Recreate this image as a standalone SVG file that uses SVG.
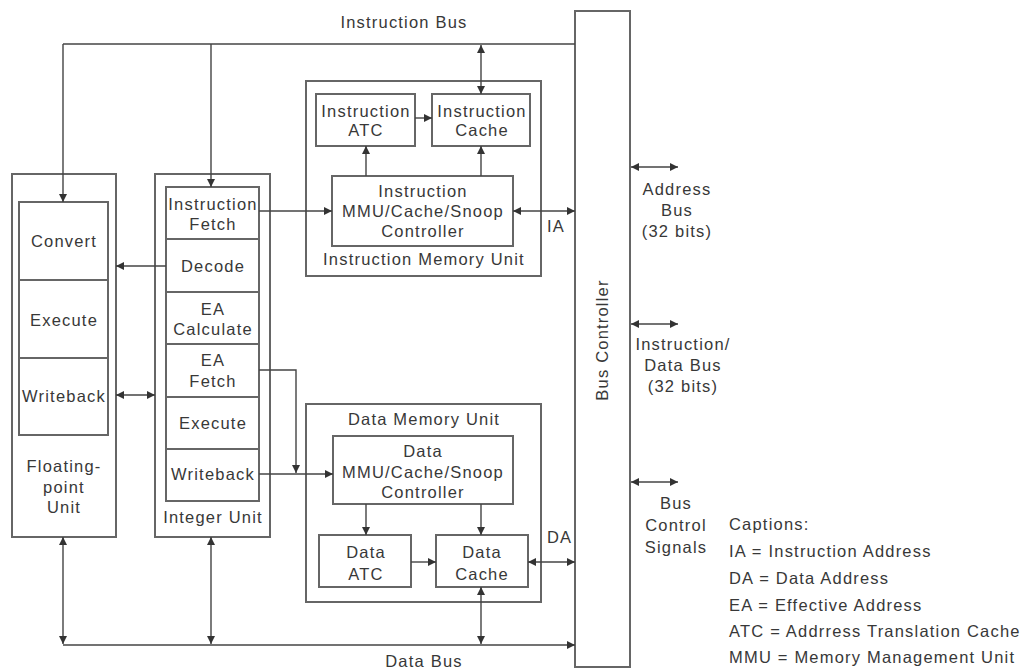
<svg xmlns="http://www.w3.org/2000/svg" width="1024" height="672" viewBox="0 0 1024 672">
  <defs>
    <marker id="arr" viewBox="0 0 10 10" refX="10" refY="5" markerWidth="9" markerHeight="8" markerUnits="userSpaceOnUse" orient="auto-start-reverse">
      <path d="M0,0 L10,5 L0,10 z" fill="#333"/>
    </marker>
    <style>
      .box { fill: #fff; stroke: #666; stroke-width: 2; }
      .cell { fill: none; stroke: #666; stroke-width: 2; }
      .wire { fill: none; stroke: #444; stroke-width: 1.4; }
      .one { marker-end: url(#arr); }
      .two { marker-start: url(#arr); marker-end: url(#arr); }
      text { font-family: "Liberation Sans", Arial, sans-serif; font-size: 16.5px; letter-spacing: 1.2px; fill: #383838; }
      .c { text-anchor: middle; }
    </style>
  </defs>
  <rect width="1024" height="672" fill="#fff"/>

  <!-- Bus controller -->
  <g id="bus-controller">
    <rect class="box" x="575" y="11" width="55" height="656"/>
    <text class="c" transform="translate(608,340) rotate(-90)">Bus Controller</text>
  </g>

  <!-- Floating-point unit -->
  <g id="fpu">
    <rect class="box" x="12" y="174" width="104" height="363"/>
    <rect class="cell" x="19" y="202" width="89" height="233"/>
    <line class="cell" x1="19" y1="280" x2="108" y2="280"/>
    <line class="cell" x1="19" y1="358" x2="108" y2="358"/>
    <text class="c" x="64" y="247">Convert</text>
    <text class="c" x="64" y="326">Execute</text>
    <text class="c" x="64" y="402">Writeback</text>
    <text class="c" x="64" y="472">Floating-</text>
    <text class="c" x="64" y="493">point</text>
    <text class="c" x="64" y="513">Unit</text>
  </g>

  <!-- Integer unit -->
  <g id="integer-unit">
    <rect class="box" x="155" y="174" width="115" height="363"/>
    <rect class="cell" x="166" y="187" width="93" height="314"/>
    <line class="cell" x1="166" y1="239" x2="259" y2="239"/>
    <line class="cell" x1="166" y1="292" x2="259" y2="292"/>
    <line class="cell" x1="166" y1="344" x2="259" y2="344"/>
    <line class="cell" x1="166" y1="397" x2="259" y2="397"/>
    <line class="cell" x1="166" y1="449" x2="259" y2="449"/>
    <text class="c" x="213" y="210">Instruction</text>
    <text class="c" x="213" y="230">Fetch</text>
    <text class="c" x="213" y="272">Decode</text>
    <text class="c" x="213" y="315">EA</text>
    <text class="c" x="213" y="335">Calculate</text>
    <text class="c" x="213" y="366">EA</text>
    <text class="c" x="213" y="387">Fetch</text>
    <text class="c" x="213" y="429">Execute</text>
    <text class="c" x="213" y="480">Writeback</text>
    <text class="c" x="213" y="523">Integer Unit</text>
  </g>

  <!-- Instruction memory unit -->
  <g id="instruction-memory-unit">
    <rect class="box" x="306" y="81" width="235" height="195"/>
    <text class="c" x="424" y="265">Instruction Memory Unit</text>
  </g>
  <g id="instruction-atc">
    <rect class="box" x="316" y="94" width="99" height="52"/>
    <text class="c" x="366" y="117">Instruction</text>
    <text class="c" x="366" y="136">ATC</text>
  </g>
  <g id="instruction-cache">
    <rect class="box" x="432" y="94" width="98" height="52"/>
    <text class="c" x="482" y="117">Instruction</text>
    <text class="c" x="482" y="136">Cache</text>
  </g>
  <g id="instruction-mmu">
    <rect class="box" x="332" y="176" width="181" height="70"/>
    <text class="c" x="423" y="197">Instruction</text>
    <text class="c" x="423" y="217">MMU/Cache/Snoop</text>
    <text class="c" x="423" y="237">Controller</text>
  </g>

  <!-- Data memory unit -->
  <g id="data-memory-unit">
    <rect class="box" x="306" y="404" width="235" height="198"/>
    <text class="c" x="424" y="425">Data Memory Unit</text>
  </g>
  <g id="data-mmu">
    <rect class="box" x="333" y="436" width="180" height="68"/>
    <text class="c" x="423" y="457">Data</text>
    <text class="c" x="423" y="478">MMU/Cache/Snoop</text>
    <text class="c" x="423" y="498">Controller</text>
  </g>
  <g id="data-atc">
    <rect class="box" x="319" y="535" width="92" height="52"/>
    <text class="c" x="366" y="558">Data</text>
    <text class="c" x="366" y="580">ATC</text>
  </g>
  <g id="data-cache">
    <rect class="box" x="436" y="535" width="92" height="52"/>
    <text class="c" x="482" y="558">Data</text>
    <text class="c" x="482" y="580">Cache</text>
  </g>

  <!-- Connectors -->
  <g id="connectors">
    <!-- instruction bus -->
    <polyline class="wire" points="575,44 63,44"/>
    <line class="wire one" x1="63" y1="44" x2="63" y2="202"/>
    <line class="wire one" x1="211" y1="44" x2="211" y2="187"/>
    <line class="wire two" x1="481" y1="45" x2="481" y2="94"/>
    <!-- instruction memory unit -->
    <line class="wire one" x1="259" y1="211" x2="332" y2="211"/>
    <line class="wire two" x1="513" y1="211" x2="575" y2="211"/>
    <line class="wire one" x1="366" y1="176" x2="366" y2="146"/>
    <line class="wire one" x1="481" y1="176" x2="481" y2="146"/>
    <line class="wire one" x1="415" y1="118" x2="432" y2="118"/>
    <!-- integer unit to floating-point unit -->
    <line class="wire one" x1="166" y1="266" x2="116" y2="266"/>
    <line class="wire two" x1="116" y1="395" x2="155" y2="395"/>
    <!-- integer unit to data memory unit -->
    <polyline class="wire one" points="259,370 296,370 296,473"/>
    <line class="wire one" x1="259" y1="474" x2="333" y2="474"/>
    <line class="wire one" x1="366" y1="504" x2="366" y2="535"/>
    <line class="wire one" x1="481" y1="504" x2="481" y2="535"/>
    <line class="wire one" x1="411" y1="562" x2="436" y2="562"/>
    <line class="wire two" x1="528" y1="562" x2="575" y2="562"/>
    <!-- data bus -->
    <line class="wire two" x1="481" y1="587" x2="481" y2="644"/>
    <line class="wire two" x1="63" y1="537" x2="63" y2="644"/>
    <line class="wire two" x1="211" y1="537" x2="211" y2="644"/>
    <line class="wire one" x1="63" y1="645" x2="575" y2="645"/>
    <!-- external buses -->
    <line class="wire two" x1="631" y1="167" x2="678" y2="167"/>
    <line class="wire two" x1="631" y1="324" x2="678" y2="324"/>
    <line class="wire two" x1="631" y1="482" x2="678" y2="482"/>
  </g>

  <!-- Labels -->
  <g id="labels">
    <text class="c" x="404" y="28">Instruction Bus</text>
    <text class="c" x="424" y="667">Data Bus</text>
    <text x="547" y="232">IA</text>
    <text x="547" y="543">DA</text>
    <text class="c" x="677" y="195">Address</text>
    <text class="c" x="677" y="216">Bus</text>
    <text class="c" x="677" y="237">(32 bits)</text>
    <text class="c" x="683" y="350">Instruction/</text>
    <text class="c" x="683" y="371">Data Bus</text>
    <text class="c" x="683" y="392">(32 bits)</text>
    <text class="c" x="676" y="509">Bus</text>
    <text class="c" x="676" y="531">Control</text>
    <text class="c" x="676" y="553">Signals</text>
  </g>

  <!-- Captions -->
  <g id="captions">
    <text x="729" y="530">Captions:</text>
    <text x="729" y="557">IA = Instruction Address</text>
    <text x="729" y="584">DA = Data Address</text>
    <text x="729" y="611">EA = Effective Address</text>
    <text x="729" y="637">ATC = Addrress Translation Cache</text>
    <text x="729" y="663">MMU = Memory Management Unit</text>
  </g>
</svg>
